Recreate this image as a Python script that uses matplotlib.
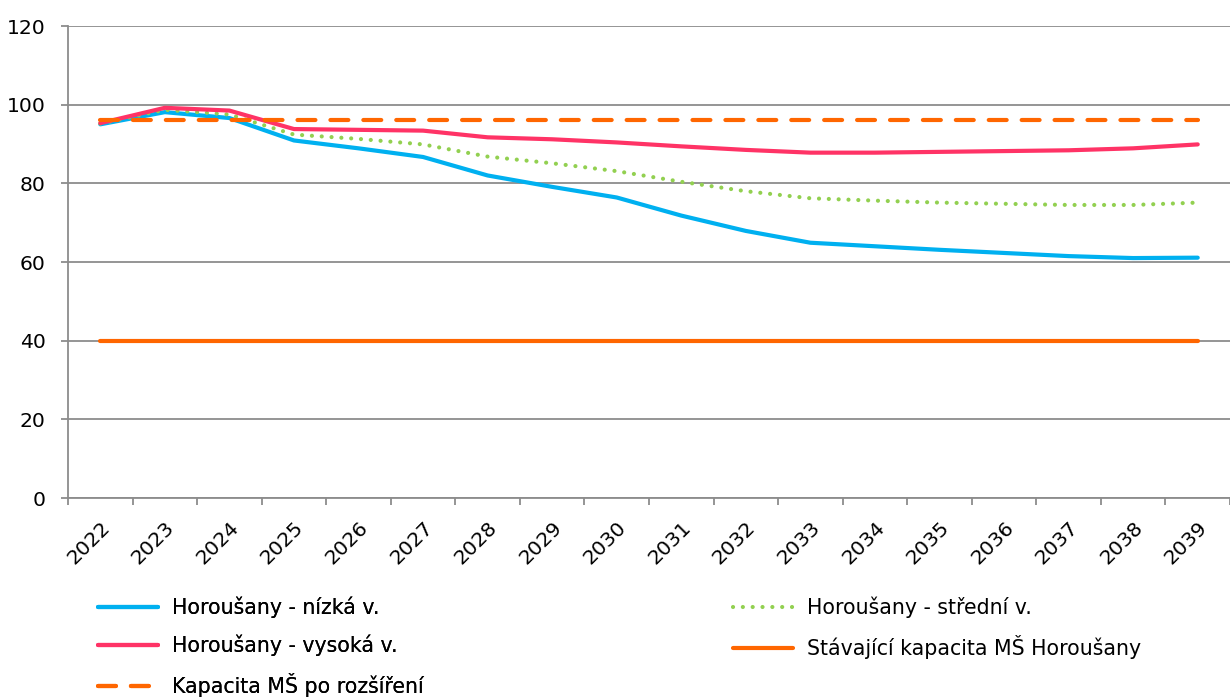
import matplotlib
matplotlib.use("Agg")
import matplotlib.pyplot as plt
import numpy as np

years = [str(y) for y in range(2022, 2040)]
nizka = [95.0, 98.1, 96.6, 90.9, 88.9, 86.7, 82.0, 79.1, 76.4, 71.8, 67.9, 64.9, 64.0, 63.1, 62.3, 61.5, 61.0, 61.1]
stredni = [95.2, 98.7, 97.5, 92.4, 91.3, 89.9, 86.8, 85.1, 83.1, 80.4, 78.0, 76.2, 75.6, 75.1, 74.8, 74.5, 74.5, 75.1]
vysoka = [95.3, 99.2, 98.5, 93.8, 93.6, 93.4, 91.7, 91.2, 90.4, 89.4, 88.5, 87.8, 87.8, 88.0, 88.2, 88.4, 88.9, 89.9]
stavajici = [40] * 18
rozsireni = [96] * 18

labels = ["Horoušany - nízká v.", "Horoušany - střední v.", "Horoušany - vysoká v.",
          "Stávající kapacita MŠ Horoušany", "Kapacita MŠ po rozšíření"]

plt.rcParams['font.family'] = ['DejaVu Sans']
fig = plt.figure(figsize=(12.3, 6.98), dpi=100)
ax = fig.add_axes([68/1230, 1-498/698, 1-68/1230, (498-26)/698])

x = np.arange(len(years))
lw = 3.0
blue, = ax.plot(x, nizka, color='#00B0F0', lw=lw, solid_capstyle='round', solid_joinstyle='round')
green, = ax.plot(x, stredni, color='#92D050', lw=lw, linestyle=(0, (0.01, 2.35)), dash_capstyle='round')
red, = ax.plot(x, vysoka, color='#FF3366', lw=lw, solid_capstyle='round', solid_joinstyle='round')
solid, = ax.plot(x, stavajici, color='#FF6600', lw=lw, solid_capstyle='round')
dash, = ax.plot(x, rozsireni, color='#FF6600', lw=lw, linestyle=(0, (4.3, 3.6)), dash_capstyle='round')

ax.set_xlim(-0.5, len(years) - 0.5)
ax.set_ylim(0, 120)
ax.set_yticks(range(0, 121, 20))
ax.yaxis.grid(True, color='#8C8C8C', lw=1.3)
ax.set_axisbelow(True)
for s in ['top', 'right']:
    ax.spines[s].set_visible(False)
for s in ['left', 'bottom']:
    ax.spines[s].set_color('#8C8C8C')
    ax.spines[s].set_linewidth(1.3)

ax.set_xticks(x)
ax.set_xticklabels(years, rotation=45, ha='right', rotation_mode='anchor')
ax.set_xticks(np.arange(-0.5, len(years), 1), minor=True)
ax.tick_params(axis='x', which='major', length=0, pad=14, labelsize=14.7)
ax.tick_params(axis='x', which='minor', length=5, width=1.3, color='#8C8C8C')
ax.tick_params(axis='y', length=5, width=1.3, color='#8C8C8C', labelsize=14.7, pad=11)

W, H = 1230, 698
kw = dict(loc='upper left', frameon=False, fontsize=14.8, handlelength=2.9,
          handletextpad=0.7, labelspacing=0.8, borderpad=0, borderaxespad=0)
leg1 = fig.legend([blue, red, dash], [labels[0], labels[2], labels[4]],
                  bbox_to_anchor=(98/W, 1-597/H), **kw)
leg2 = fig.legend([green, solid], [labels[1], labels[3]],
                  bbox_to_anchor=(733/W, 1-597/H), **kw)
fig.add_artist(leg1)

fig.savefig('out.png', dpi=100)
